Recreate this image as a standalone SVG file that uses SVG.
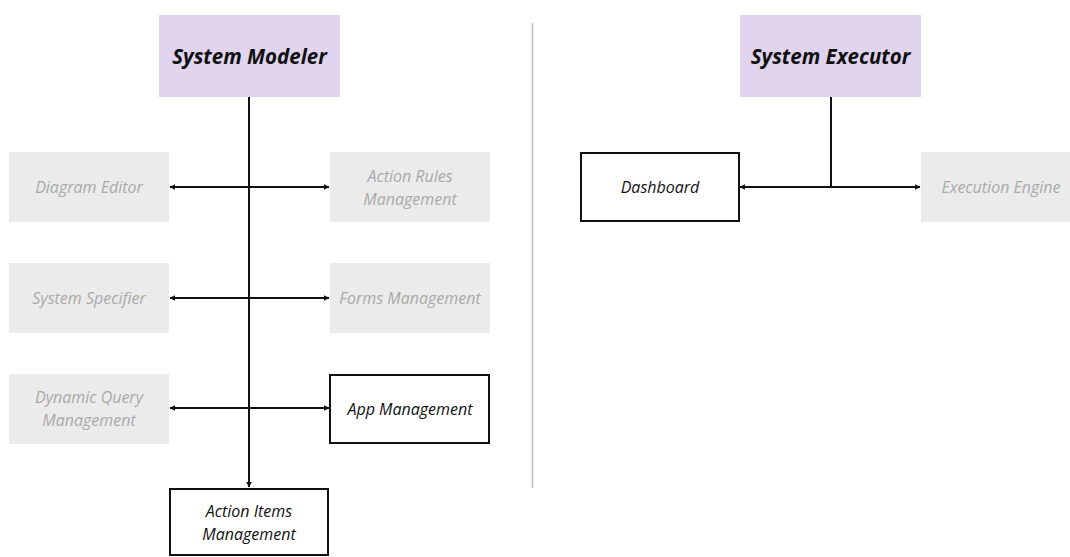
<svg xmlns="http://www.w3.org/2000/svg" width="1070" height="557" viewBox="0 0 1070 557">
<style>
.title{fill:#e1d4ef}
.grey{fill:#ebebeb}
.white{fill:#fff;stroke:#111;stroke-width:2}
text{font-family:"Open Sans","Liberation Sans",sans-serif;font-style:italic;text-anchor:middle;dominant-baseline:central}
.tt{font-size:20.5px;font-weight:bold;fill:#111}
.gt{font-size:16px;fill:#a9a9a9}
.bt{font-size:16px;fill:#111}
.conn{stroke:#111;stroke-width:2;fill:none}
</style>
<defs>
<marker id="ah" viewBox="0 0 10 10" refX="9" refY="5" markerWidth="6" markerHeight="6" orient="auto-start-reverse" markerUnits="userSpaceOnUse"><path d="M0,0 L10,5 L0,10 z" fill="#111"/></marker>
</defs>
<rect width="1070" height="557" fill="#fff"/>
<line x1="532.5" y1="23" x2="532.5" y2="488" stroke="#bdbdbd" stroke-width="1.5"/>
<g id="connectors">
<line class="conn" x1="249" y1="97" x2="249" y2="487" marker-end="url(#ah)"/>
<line class="conn" x1="170" y1="187" x2="329" y2="187" marker-start="url(#ah)" marker-end="url(#ah)"/>
<line class="conn" x1="170" y1="298" x2="329" y2="298" marker-start="url(#ah)" marker-end="url(#ah)"/>
<line class="conn" x1="170" y1="408" x2="329" y2="408" marker-start="url(#ah)" marker-end="url(#ah)"/>
<line class="conn" x1="831" y1="97" x2="831" y2="187"/>
<line class="conn" x1="740" y1="187" x2="920" y2="187" marker-start="url(#ah)" marker-end="url(#ah)"/>
</g>
<g id="system-modeler"><rect class="title" x="159" y="15" width="181" height="82"/><text class="tt" x="249.5" y="56">System Modeler</text></g>
<g id="diagram-editor"><rect class="grey" x="9" y="152" width="160" height="70"/><text class="gt" x="89" y="187">Diagram Editor</text></g>
<g id="action-rules"><rect class="grey" x="330" y="152" width="160" height="70"/><text class="gt" x="410" y="176">Action Rules</text><text class="gt" x="410" y="199">Management</text></g>
<g id="system-specifier"><rect class="grey" x="9" y="263" width="160" height="70"/><text class="gt" x="89" y="298">System Specifier</text></g>
<g id="forms-management"><rect class="grey" x="330" y="263" width="160" height="70"/><text class="gt" x="410" y="298">Forms Management</text></g>
<g id="dynamic-query"><rect class="grey" x="9" y="374" width="160" height="70"/><text class="gt" x="89" y="397">Dynamic Query</text><text class="gt" x="89" y="420">Management</text></g>
<g id="app-management"><rect class="white" x="330" y="375" width="159" height="68"/><text class="bt" x="410" y="409">App Management</text></g>
<g id="action-items"><rect class="white" x="170" y="489" width="158" height="66"/><text class="bt" x="249" y="511">Action Items</text><text class="bt" x="249" y="534">Management</text></g>
<g id="system-executor"><rect class="title" x="740" y="15" width="181" height="82"/><text class="tt" x="830.5" y="56">System Executor</text></g>
<g id="dashboard"><rect class="white" x="581" y="153" width="158" height="68"/><text class="bt" x="660" y="187">Dashboard</text></g>
<g id="execution-engine"><rect class="grey" x="921" y="152" width="160" height="70"/><text class="gt" x="1001" y="187">Execution Engine</text></g>
</svg>
